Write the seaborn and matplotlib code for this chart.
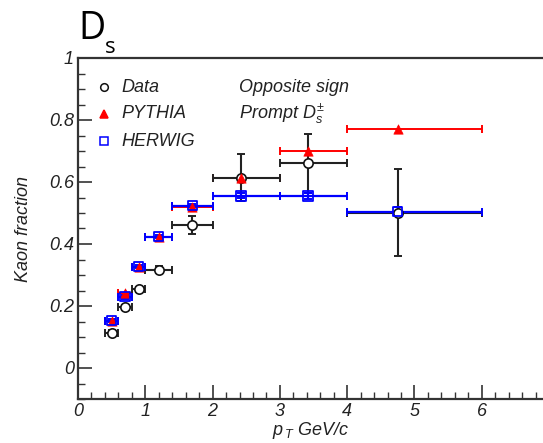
import matplotlib
matplotlib.use("Agg")
import matplotlib.pyplot as plt
import seaborn as sns
import numpy as np
import pandas as pd
from matplotlib.ticker import MultipleLocator

# ---- data ----
pt_centers = [0.5, 0.7, 0.9, 1.2, 1.7, 2.42, 3.42, 4.75]
pt_lo = [0.4, 0.6, 0.8, 1.0, 1.4, 2.0, 3.0, 4.0]
pt_hi = [0.6, 0.8, 1.0, 1.4, 2.0, 3.0, 4.0, 6.0]
data_y = [0.114, 0.196, 0.254, 0.317, 0.461, 0.614, 0.660, 0.501]
data_yerr = [0.008, 0.008, 0.008, 0.012, 0.030, 0.075, 0.094, 0.140]
pythia_y = [0.153, 0.242, 0.327, 0.424, 0.518, 0.614, 0.700, 0.771]
herwig_y = [0.153, 0.230, 0.327, 0.424, 0.524, 0.555, 0.555, 0.504]
herwig_yerr = [0.006, 0.006, 0.006, 0.006, 0.006, 0.008, 0.010, 0.014]

sns.set_theme(style="white")
plt.rcParams['font.family'] = ['Liberation Sans', 'DejaVu Sans']
plt.rcParams['mathtext.fontset'] = 'custom'
plt.rcParams['mathtext.it'] = 'Liberation Sans:italic'
plt.rcParams['mathtext.rm'] = 'Liberation Sans'
plt.rcParams['mathtext.sf'] = 'Liberation Sans'

fig = plt.figure(figsize=(5.43, 4.43), dpi=100)
L, R, B, T = 78/543, 1.0, 1 - 399/443, 1 - 58/443
ax = fig.add_axes([L, B, R - L, T - B])

x = np.array(pt_centers)
xl = x - np.array(pt_lo)
xh = np.array(pt_hi) - x
df = pd.DataFrame({"pt": pt_centers, "data": data_y, "pythia": pythia_y, "herwig": herwig_y})

# error bars
ax.errorbar(x, pythia_y, xerr=[xl, xh], fmt='none', ecolor='#ff0000',
            elinewidth=1.4, capsize=3, capthick=1.4, zorder=2)
ax.errorbar(x, data_y, yerr=data_yerr, xerr=[xl, xh], fmt='none', ecolor='#222222',
            elinewidth=1.5, capsize=3, capthick=1.4, zorder=3)
ax.errorbar(x, herwig_y, yerr=herwig_yerr, xerr=[xl, xh], fmt='none', ecolor='#0000ff',
            elinewidth=1.6, capsize=3, capthick=1.4, zorder=4)

# markers
sns.scatterplot(data=df, x="pt", y="data", marker='o', s=45, color='white',
                edgecolor='#111111', linewidth=1.2, ax=ax, zorder=5)
sns.scatterplot(data=df, x="pt", y="pythia", marker='^', s=45, color='#ff0000',
                edgecolor='#ff0000', linewidth=0.5, ax=ax, zorder=6)
sns.scatterplot(data=df, x="pt", y="herwig", marker='s', s=45, facecolor='none',
                edgecolor='#0000ff', linewidth=1.3, ax=ax, zorder=7)

ax.set_xlim(0, 6.91)
ax.set_ylim(-0.1, 1.0)
ax.xaxis.set_minor_locator(MultipleLocator(0.2))
ax.yaxis.set_minor_locator(MultipleLocator(0.05))
ax.set_xticks([0, 1, 2, 3, 4, 5, 6])
ax.set_xticklabels(['0', '1', '2', '3', '4', '5', '6'])
ax.set_yticks([0, 0.2, 0.4, 0.6, 0.8, 1.0])
ax.set_yticklabels(['0', '0.2', '0.4', '0.6', '0.8', '1'])
for lab in ax.get_xticklabels() + ax.get_yticklabels():
    lab.set_fontstyle('italic')
    lab.set_fontsize(13)
    lab.set_color('#222222')

ax.tick_params(which='major', direction='in', length=10, width=1.2, color='#333333',
               bottom=True, left=True, top=False, right=False, pad=3)
ax.tick_params(which='minor', direction='in', length=5, width=1.0, color='#333333',
               bottom=True, left=True, top=False, right=False)

for s in ['left', 'bottom', 'top']:
    ax.spines[s].set_color('#333333')
    ax.spines[s].set_linewidth(1.6)
ax.spines['right'].set_visible(False)

ax.set_xlabel(r'$p_{\,T}$ GeV/c', fontsize=13, fontstyle='italic', color='#222222', labelpad=0)
ax.set_ylabel('Kaon fraction', fontsize=13, fontstyle='italic', color='#222222', labelpad=12)
ax.set_facecolor('white')

# legend drawn manually
def fx(px):
    return (px - 78) / 465
def fy(py):
    return (399 - py) / 341

leg = [('Data', 'o', 'white', '#111111', 87),
       ('PYTHIA', '^', '#ff0000', '#ff0000', 114),
       ('HERWIG', 's', 'none', '#0000ff', 141)]
for name, m, fc, ec, py in leg:
    ax.plot([fx(104)], [fy(py)], marker=m, markersize=5.5, markerfacecolor=fc,
            markeredgecolor=ec, markeredgewidth=1.1, transform=ax.transAxes, clip_on=False)
    ax.text(fx(121), fy(py), name, transform=ax.transAxes, fontsize=13,
            fontstyle='italic', va='center', ha='left', color='#222222')

ax.text(fx(239), fy(87), 'Opposite sign', transform=ax.transAxes, fontsize=13,
        fontstyle='italic', va='center', ha='left', color='#222222')
ax.text(fx(239), fy(114), r'Prompt $D_s^{\pm}$', transform=ax.transAxes, fontsize=13,
        fontstyle='italic', va='center', ha='left', color='#222222')

# title "D_s"
fig.text(78/543, 1 - 39/443, 'D', fontsize=27, family=['Open Sans', 'DejaVu Sans'],
         color='black', ha='left', va='baseline')
fig.text(105/543, 1 - 53/443, 's', fontsize=16, family=['Open Sans', 'DejaVu Sans'],
         color='black', ha='left', va='baseline')

fig.savefig('out.png', dpi=100, facecolor='white')
